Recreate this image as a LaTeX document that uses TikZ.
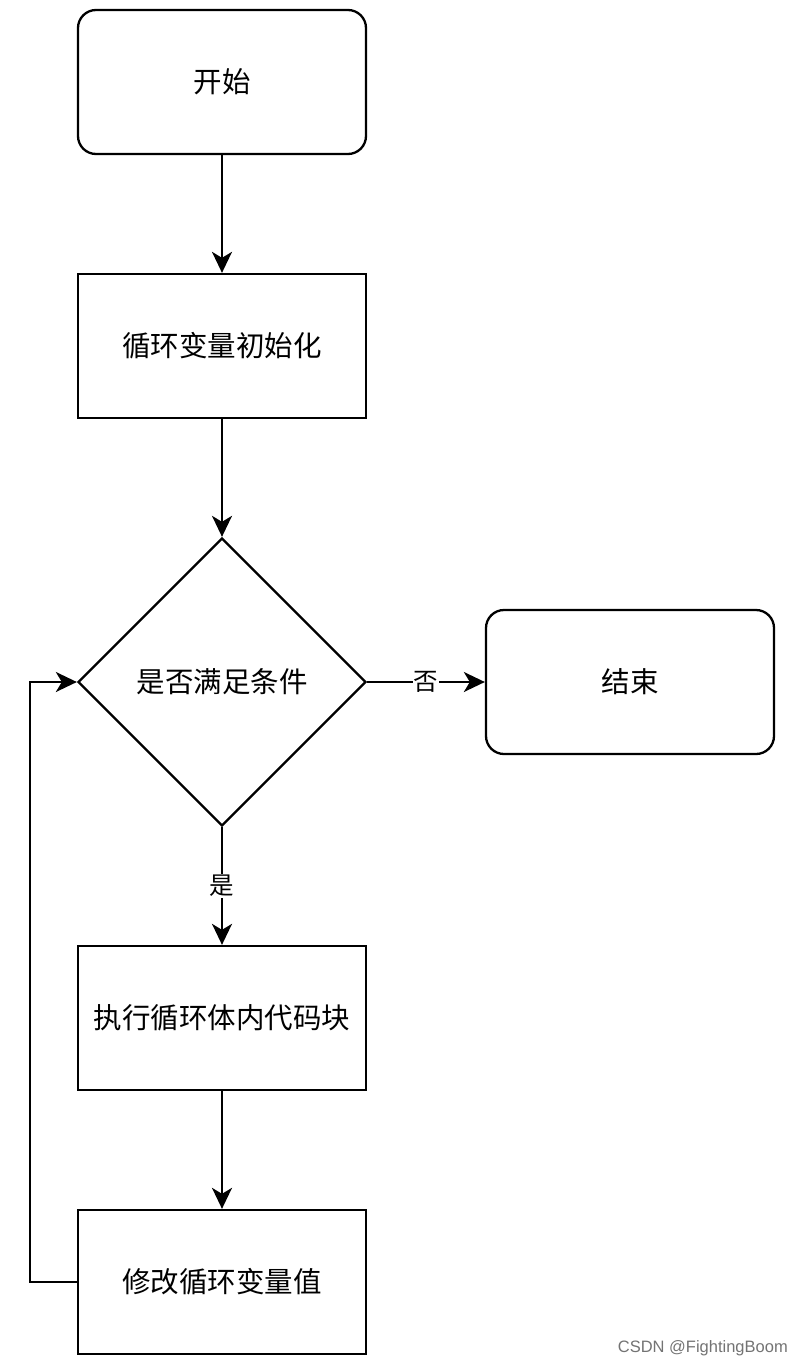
\documentclass[tikz,border=0pt]{standalone}
\usepackage{fontspec}
\newfontfamily\cjk{Noto Sans CJK SC}
\newfontfamily\wm{Liberation Sans}
\usetikzlibrary{shapes.geometric,arrows.meta}
\begin{document}
\begin{tikzpicture}[x=1pt,y=-1pt,
  every node/.style={font=\cjk\fontsize{28.5}{34}\selectfont},
  box/.style={draw,line width=2.3pt,minimum width=288pt,minimum height=144pt,inner sep=0pt},
  term/.style={box,rounded corners=18pt},
  dec/.style={draw,line width=2.3pt,diamond,minimum width=288pt,minimum height=288pt,inner sep=0pt},
  conn/.style={line width=2.3pt,-{Stealth[length=21pt,width=20pt,inset=6pt]}},
  lab/.style={fill=white,inner sep=1pt,font=\cjk\fontsize{24.5}{28}\selectfont}]
\useasboundingbox (0,0) rectangle (802,1366);
\node[term] (start) at (222,82) {开始};
\node[box] (init) at (222,346) {循环变量初始化};
\node[dec] (cond) at (222,682) {是否满足条件};
\node[term] (end) at (630,682) {结束};
\node[box] (exec) at (222,1018) {执行循环体内代码块};
\node[box] (mod) at (222,1282) {修改循环变量值};
\coordinate (c1) at (30,1282);
\coordinate (c2) at (30,682);
\draw[conn] (start) -- (init);
\draw[conn] (init) -- (cond);
\draw[conn] (cond) -- node[lab]{否} (end);
\draw[conn] (cond) -- node[lab]{是} (exec);
\draw[conn] (exec) -- (mod);
\draw[conn] (mod.west) -- (c1) -- (c2) -- (cond.west);
\node[anchor=east,text=black!55,font=\wm\fontsize{16.5}{18}\selectfont,inner sep=0pt] (wm) at (788,1348) {CSDN @FightingBoom};
\end{tikzpicture}
\end{document}
